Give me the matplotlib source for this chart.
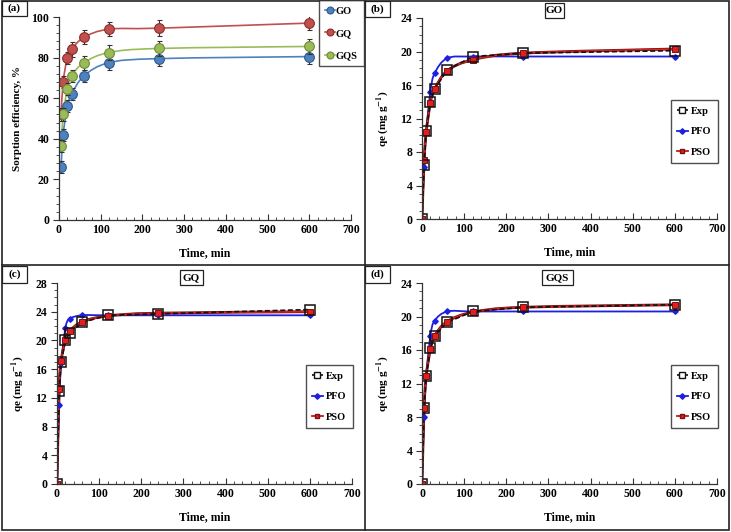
import numpy as np
import matplotlib
matplotlib.use("Agg")
import matplotlib.pyplot as plt
from matplotlib.path import Path
from matplotlib.patches import PathPatch, Rectangle
from matplotlib.lines import Line2D

plt.rcParams['font.family'] = 'Liberation Serif'
plt.rcParams['font.weight'] = 'bold'
plt.rcParams['mathtext.fontset'] = 'stix'
plt.rcParams['mathtext.default'] = 'bf'

# ---- data ----
t_eff = [5, 10, 20, 30, 60, 120, 240, 600]
eff_GO = [26, 42, 56, 62, 71, 77.5, 79.5, 80.5]
eff_GQ = [52, 68, 80, 84, 90, 94, 94.5, 97]
eff_GQS = [36.5, 52, 64.5, 71, 77.5, 82.5, 84.5, 85.5]
err_GO = [3, 3, 3, 3, 3, 3.5, 3.5, 3.5]
err_GQ = [3, 3, 3, 3.5, 3.5, 3.5, 4, 3.5]
err_GQS = [3, 3, 3, 3, 3.5, 3.5, 3.5, 3.5]

t_kin = [0, 5, 10, 20, 30, 60, 120, 240, 600]
GO_exp = [0, 6.5, 10.5, 14.0, 15.5, 17.8, 19.4, 19.8, 20.1]
GO_pfo = [0, 6.2, 10.4, 15.2, 17.4, 19.2, 19.4, 19.4, 19.4]
GO_pso = [0, 7.0, 10.4, 13.9, 15.5, 17.7, 19.0, 19.8, 20.3]
GQ_exp = [0, 13.0, 17.0, 20.0, 21.0, 22.5, 23.5, 23.7, 24.3]
GQ_pfo = [0, 11.0, 16.8, 21.7, 23.0, 23.5, 23.5, 23.5, 23.5]
GQ_pso = [0, 13.3, 17.2, 20.1, 21.3, 22.6, 23.4, 23.8, 24.0]
GQS_exp = [0, 9.1, 12.9, 16.2, 17.7, 19.3, 20.6, 21.1, 21.4]
GQS_pfo = [0, 8.0, 12.9, 17.7, 19.5, 20.6, 20.6, 20.6, 20.6]
GQS_pso = [0, 9.1, 12.9, 16.1, 17.7, 19.4, 20.5, 21.1, 21.4]

W, H = 731, 532


def smooth_path(x, y):
    # Excel-like smoothed line through the points (cubic bezier segments)
    pts = np.column_stack([x, y]).astype(float)
    n = len(pts)
    verts = [pts[0]]
    codes = [Path.MOVETO]
    for i in range(n - 1):
        p0 = pts[max(i - 1, 0)]
        p1 = pts[i]
        p2 = pts[i + 1]
        p3 = pts[min(i + 2, n - 1)]
        verts += [p1 + (p2 - p0) / 6, p2 - (p3 - p1) / 6, p2]
        codes += [Path.CURVE4] * 3
    return Path(verts, codes)


def fig_rect(fig, x0, y0, x1, y1, lw=1.0):
    r = Rectangle((x0 / W, 1 - y1 / H), (x1 - x0) / W, (y1 - y0) / H,
                  transform=fig.transFigure, fill=True, facecolor='white',
                  edgecolor='#222222', lw=lw, zorder=5)
    fig.add_artist(r)


def fig_box_text(fig, x0, y0, x1, y1, s):
    fig_rect(fig, x0, y0, x1, y1, lw=0.9)
    fig.text((x0 + x1) / 2 / W, 1 - (y0 + y1) / 2 / H, s, ha='center', va='center',
             fontsize=8, fontweight='bold', zorder=6)


def add_axes(fig, x0, y0, x1, y1):
    return fig.add_axes([x0 / W, 1 - y1 / H, (x1 - x0) / W, (y1 - y0) / H])


def style_axes(ax, ymax, ymajor, yminor, ylabel):
    ax.set_xlim(0, 700)
    ax.set_ylim(0, ymax)
    ax.set_xticks(range(0, 701, 100))
    ax.set_xticks(range(0, 701, 20), minor=True)
    ax.set_yticks(np.arange(0, ymax + 0.1, ymajor))
    ax.set_yticks(np.arange(0, ymax + 0.1, yminor), minor=True)
    for s in ['top', 'right']:
        ax.spines[s].set_visible(False)
    for s in ['left', 'bottom']:
        ax.spines[s].set_color('#333333')
        ax.spines[s].set_linewidth(0.9)
    ax.tick_params(axis='x', which='both', direction='in', color='#333333')
    ax.tick_params(axis='y', which='both', direction='out', color='#333333')
    ax.tick_params(which='major', length=4, width=0.8, labelsize=8.5, pad=3)
    ax.tick_params(which='minor', length=2, width=0.6)
    for lab in ax.get_xticklabels() + ax.get_yticklabels():
        lab.set_fontweight('bold')
    ax.set_xlabel('Time, min', fontsize=8.5, fontweight='bold', labelpad=8)
    ax.set_ylabel(ylabel, fontsize=8, fontweight='bold', labelpad=7)
    ax.patch.set_alpha(0)


fig = plt.figure(figsize=(W / 100, H / 100), dpi=100)

# panel frames
fig_rect(fig, 2, 1, 729, 530, lw=1.2)
fig.add_artist(Line2D([365 / W, 365 / W], [1 - 1 / H, 1 - 530 / H], transform=fig.transFigure,
                      color='#222222', lw=1.2, zorder=5))
fig.add_artist(Line2D([2 / W, 729 / W], [1 - 265 / H, 1 - 265 / H], transform=fig.transFigure,
                      color='#222222', lw=1.2, zorder=5))

# ---- (a) sorption efficiency ----
ax = add_axes(fig, 59, 17, 351, 220)
ax.set_zorder(10)
series_a = [
    ('GO', eff_GO, err_GO, '#4F81BD', '#2C5A8E'),
    ('GQ', eff_GQ, err_GQ, '#C0504D', '#8C2D2A'),
    ('GQS', eff_GQS, err_GQS, '#9BBB59', '#6E8A34'),
]
handles = []
for name, vals, errs, col, edge in series_a:
    ax.add_patch(PathPatch(smooth_path(t_eff, vals), facecolor='none', edgecolor=col, lw=1.2))
    ax.errorbar(t_eff, vals, yerr=errs, fmt='none', ecolor='#333333', elinewidth=0.8,
                capsize=1.8, capthick=0.8)
    ax.plot(t_eff, vals, ls='none', marker='o', ms=7, mfc=col, mec=edge, mew=0.8)
    handles.append(Line2D([], [], color=col, lw=1.2, marker='o', ms=5, mfc=col, mec=edge,
                          mew=0.8, label=name))
style_axes(ax, 100, 20, 4, 'Sorption efficiency, %')
leg = ax.legend(handles=handles, loc='upper right', bbox_to_anchor=(364 / W, 1 - 0 / H),
                bbox_transform=fig.transFigure, fontsize=7.5, frameon=True, fancybox=False,
                handlelength=0.9, handletextpad=0.1, labelspacing=1.25, borderpad=0.6,
                borderaxespad=0)
leg.get_frame().set_edgecolor('#222222')
leg.get_frame().set_linewidth(1.0)
for txt in leg.get_texts():
    txt.set_fontweight('bold')
fig_box_text(fig, 2, 1, 27, 16, '(a)')

# ---- kinetic panels ----
kin = [
    ((422, 18, 717, 219), 24, 'GO', GO_exp, GO_pfo, GO_pso, '(b)', (365, 1, 390, 17), (545, 3, 564, 18),
     (669, 100, 718, 164)),
    ((57, 283, 352, 484), 28, 'GQ', GQ_exp, GQ_pfo, GQ_pso, '(c)', (2, 266, 27, 283), (180, 270, 203, 285),
     (305, 365, 353, 430)),
    ((422, 283, 717, 484), 24, 'GQS', GQS_exp, GQS_pfo, GQS_pso, '(d)', (365, 266, 390, 283),
     (542, 270, 573, 285), (669, 365, 718, 430)),
]
for box, ymax, title, exp, pfo, pso, tag, tagbox, titlebox, legbox in kin:
    ax = add_axes(fig, *box)
    ax.set_zorder(10)
    ax.plot(t_kin, exp, color='#111111', lw=1.2, ls=(0, (3, 1.6)))
    ax.add_patch(PathPatch(smooth_path(t_kin, pfo), facecolor='none', edgecolor='#1F1FE0', lw=1.3))
    ax.plot(t_kin, pfo, ls='none', marker='D', ms=2.8, mfc='#1F1FE0', mec='#1F1FE0')
    ax.add_patch(PathPatch(smooth_path(t_kin, pso), facecolor='none', edgecolor='#6B1010', lw=2.0))
    ax.add_patch(PathPatch(smooth_path(t_kin, pso), facecolor='none', edgecolor='#E02020', lw=1.1))
    ax.plot(t_kin, pso, ls='none', marker='s', ms=4.5, mfc='#E02020', mec='#7A1010', mew=0.7)
    ax.plot(t_kin, exp, ls='none', marker='s', ms=6.5, mfc='none', mec='#111111', mew=1.1)
    style_axes(ax, ymax, 4, 1, 'qe (mg g$^{-1}$)')
    handles = [
        Line2D([], [], color='#111111', lw=1.2, ls=(0, (3, 1.6)), marker='s', ms=5, mfc='white',
               mec='#111111', mew=1.0, label='Exp'),
        Line2D([], [], color='#1F1FE0', lw=1.3, marker='D', ms=2.8, mfc='#1F1FE0', mec='#1F1FE0',
               label='PFO'),
        Line2D([], [], color='#C01818', lw=1.3, marker='s', ms=3.5, mfc='#E02020', mec='#7A1010',
               label='PSO'),
    ]
    leg = ax.legend(handles=handles, loc='upper right',
                    bbox_to_anchor=(legbox[2] / W, 1 - legbox[1] / H),
                    bbox_transform=fig.transFigure, fontsize=7.5, frameon=True, fancybox=False,
                    handlelength=1.0, handletextpad=0.35, labelspacing=1.1, borderpad=0.6,
                    borderaxespad=0)
    leg.get_frame().set_edgecolor('#222222')
    leg.get_frame().set_linewidth(1.0)
    for txt in leg.get_texts():
        txt.set_fontweight('bold')
    fig_box_text(fig, *tagbox, tag)
    fig_box_text(fig, *titlebox, title)

fig.savefig('out.png', dpi=100)
